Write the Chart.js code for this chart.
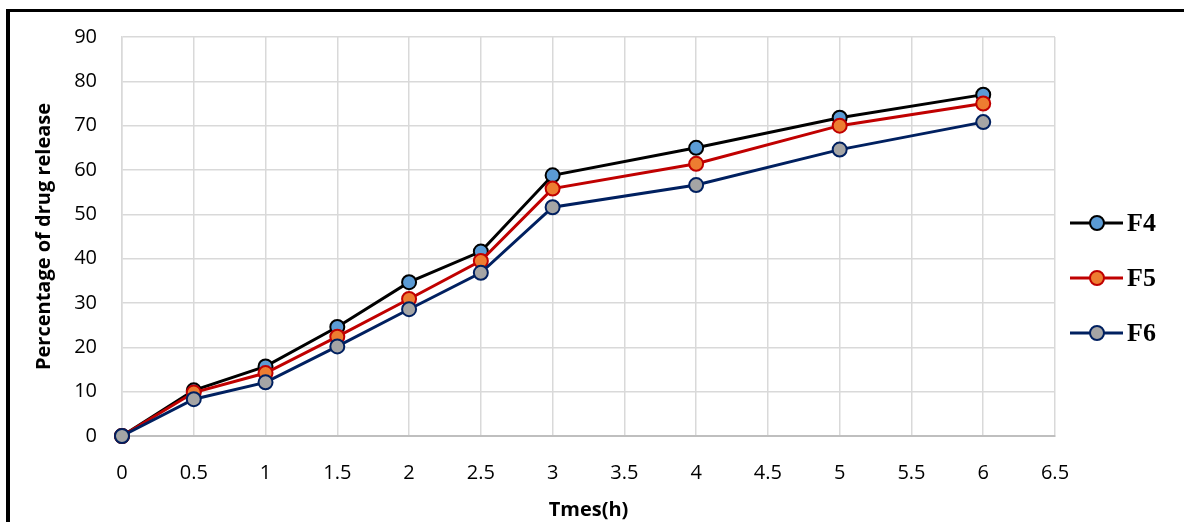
<!DOCTYPE html>
<html>
<head>
<meta charset="utf-8">
<script src="https://cdn.jsdelivr.net/npm/chart.js@4/dist/chart.umd.min.js"></script>
<style>
  body { margin: 0; background: #fff; }
  #wrap { position: relative; width: 1184px; height: 522px; overflow: hidden; }
  #frame { position: absolute; left: 6px; top: 9px; width: 1300px; height: 600px;
           border-left: 4px solid #000; border-top: 3px solid #000; pointer-events: none; }
  canvas { position: absolute; left: 0; top: 0; }
</style>
</head>
<body>
<div id="wrap">
  <canvas id="releaseChart" width="1184" height="522"></canvas>
  <div id="frame"></div>
</div>
<script>
const times = [0, 0.5, 1, 1.5, 2, 2.5, 3, 4, 5, 6];
const seriesNames = ['F4', 'F5', 'F6'];
const f4 = [0, 10.3, 15.7, 24.6, 34.7, 41.6, 58.8, 65.0, 71.8, 77.0];
const f5 = [0, 9.8, 14.2, 22.4, 30.9, 39.5, 55.8, 61.4, 70.0, 75.0];
const f6 = [0, 8.3, 12.1, 20.2, 28.6, 36.8, 51.6, 56.6, 64.6, 70.8];
const lineColors = ['#000000', '#c00000', '#002060'];
const markerColors = ['#5b9bd5', '#ed7d31', '#a5a5a5'];

function toPoints(values) {
    return times.map((t, i) => ({ x: t, y: values[i] }));
}

// later series sit on top, as in the original
const datasets = [f4, f5, f6].map((vals, i) => ({
    label: seriesNames[i],
    data: toPoints(vals),
    order: 2 - i,
    borderColor: lineColors[i],
    backgroundColor: markerColors[i],
    pointBackgroundColor: markerColors[i],
    pointBorderColor: lineColors[i],
    pointBorderWidth: 2,
    pointRadius: 7,
    borderWidth: 3,
    tension: 0,
    clip: false
}));

// legend drawn on the right like the original (line + marker + bold serif label)
const sideLegend = {
    id: 'sideLegend',
    afterDraw(chart) {
        const ctx = chart.ctx;
        const ys = [223, 278, 333];
        chart.data.datasets.forEach((ds, i) => {
            const y = ys[i];
            ctx.save();
            ctx.strokeStyle = ds.borderColor;
            ctx.lineWidth = 3;
            ctx.beginPath();
            ctx.moveTo(1070, y);
            ctx.lineTo(1123, y);
            ctx.stroke();
            ctx.beginPath();
            ctx.arc(1097, y, 7, 0, Math.PI * 2);
            ctx.fillStyle = ds.pointBackgroundColor;
            ctx.fill();
            ctx.lineWidth = 2;
            ctx.strokeStyle = ds.pointBorderColor;
            ctx.stroke();
            ctx.fillStyle = '#000';
            ctx.font = 'bold 26px "Liberation Serif", "Times New Roman", serif';
            ctx.textBaseline = 'middle';
            ctx.fillText(ds.label, 1127, y + 1);
            ctx.restore();
        });
    }
};

const tickFont = { family: '"Open Sans", sans-serif', size: 20 };
const titleFont = { family: '"Open Sans", sans-serif', size: 20, weight: 'bold' };

const ctx = document.getElementById('releaseChart').getContext('2d');
new Chart(ctx, {
    type: 'line',
    data: { datasets },
    options: {
        responsive: false,
        animation: false,
        layout: { padding: { left: 30, right: 129, top: 37, bottom: 0 } },
        plugins: { legend: { display: false }, tooltip: { enabled: false } },
        scales: {
            x: {
                type: 'linear',
                min: 0, max: 6.5,
                afterFit: s => { s.height = 86; },
                ticks: { stepSize: 0.5, padding: 25, color: '#000', font: tickFont,
                         callback: v => String(v) },
                grid: { color: '#d9d9d9', lineWidth: 1.5, drawTicks: false },
                border: { color: '#bfbfbf', width: 2 },
                title: { display: true, text: 'Tmes(h)', color: '#000', padding: { top: 4, bottom: 0 },
                         font: titleFont }
            },
            y: {
                min: 0, max: 90,
                afterFit: s => { s.width = 92; },
                ticks: { stepSize: 10, padding: 25, color: '#000', font: tickFont },
                grid: { color: '#d9d9d9', lineWidth: 1.5, drawTicks: false },
                border: { color: '#d9d9d9', width: 1.5 },
                title: { display: true, text: 'Percentage of drug release', color: '#000', padding: { top: 2, bottom: 0 },
                         font: titleFont }
            }
        }
    },
    plugins: [sideLegend]
});
</script>
</body>
</html>
